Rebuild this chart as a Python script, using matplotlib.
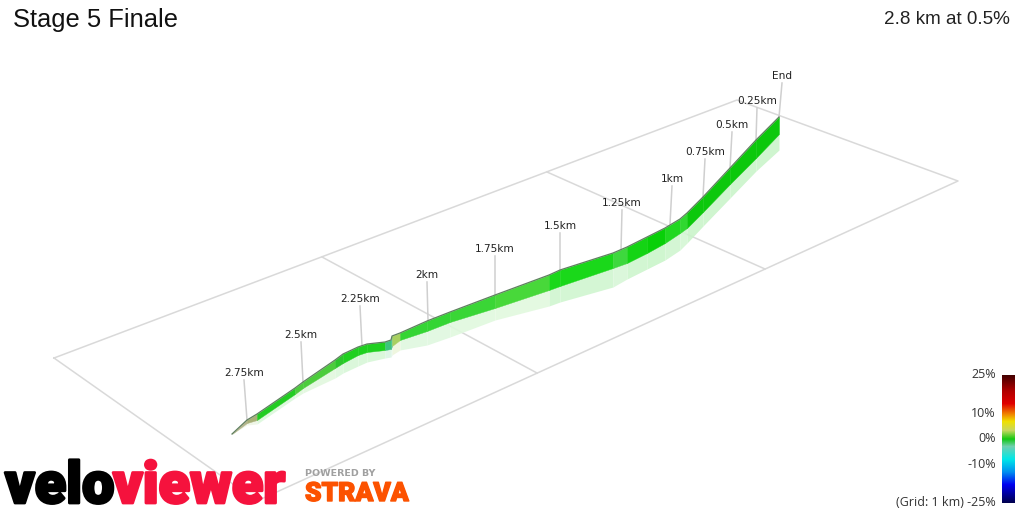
import matplotlib
matplotlib.use('Agg')
import matplotlib.pyplot as plt
import matplotlib.patheffects as pe
from matplotlib.colors import LinearSegmentedColormap
import numpy as np

grid_x = [54, 737, 958, 257, 54]
grid_y = [358, 100, 181, 501, 358]
cross1_x = [322, 537]
cross1_y = [257, 373]
cross2_x = [547, 765]
cross2_y = [172, 269]

profile_x = [232, 247, 257, 295, 303, 335, 343, 358, 367, 385, 391, 392, 400, 427,
             450, 495, 549, 560, 613, 627, 647, 665, 680, 687, 703, 730, 756, 779]
top_y = [434, 420, 414, 388, 382, 360, 354, 347, 344, 342, 340, 336, 333, 321,
         312, 295, 275, 270, 253, 247, 237, 228, 219, 213, 197, 168, 140, 117]
green_y = [434, 423, 420, 394, 388, 368, 363, 355, 352, 350, 349, 346, 340, 331,
           322, 308, 290, 286, 268, 263, 253, 243, 233, 228, 212, 184, 158, 134]
shadow_y = [434, 425, 424, 398, 393, 378, 373, 366, 362, 358, 357, 355, 350, 345,
            337, 320, 306, 302, 287, 279, 269, 260, 250, 243, 226, 198, 171, 150]
segment_colors = ['#b4b48a', '#a8b078', '#22cc22', '#4ccc3c', '#4ccc3c', '#2cc42c', '#1fd01f',
                  '#1fd01f', '#1fd01f', '#3cc47c', '#48c090', '#a8d060', '#34d534', '#34d534',
                  '#3ad636', '#48d83a', '#1ad81a', '#1ad81a', '#3ed83e', '#14d414', '#08d008',
                  '#20d820', '#30d830', '#0cc80c', '#0cc80c', '#0cc80c', '#0cc80c']
shadow_colors = ['#eef6e6', '#eef6e6', '#dcf8dc', '#e2f8de', '#e2f8de', '#dcf8dc', '#d8f7d8',
                 '#d8f7d8', '#d8f7d8', '#dcf4e4', '#dcf4e4', '#eef6dc', '#dff8df', '#dff8df',
                 '#e0f9de', '#e2f9de', '#d0f6d0', '#d0f6d0', '#d8f7d8', '#cef5ce', '#caf5ca',
                 '#d0f6d0', '#d4f7d4', '#caf4ca', '#caf4ca', '#caf4ca', '#caf4ca']

km_labels = ['2.75km', '2.5km', '2.25km', '2km', '1.75km', '1.5km', '1.25km', '1km',
             '0.75km', '0.5km', '0.25km', 'End']
label_x = [244, 301, 360, 427, 495, 560, 622, 672, 705, 732, 757, 782]
label_y = [373, 335, 299, 275, 249, 226, 203, 179, 152, 125, 101, 76]
foot_x = [247, 303, 362, 428, 495, 560, 621, 670, 703, 730, 756, 779]
foot_y = [420, 382, 346, 320, 295, 270, 250, 224, 197, 168, 140, 117]

scale_ticks = [25, 10, 0, -10]
scale_pct = [-25, -18, -13, -8, -3, 0, 3.5, 7, 10, 14, 19, 25]
scale_colors = ['#000050', '#0000f0', '#0090f0', '#00e8e8', '#70d0b0', '#10c810',
                '#c8d860', '#f0e000', '#f08000', '#e00000', '#b00000', '#450000']

fig = plt.figure(figsize=(10.24, 5.12), dpi=100)
ax = fig.add_axes([0, 0, 1, 1])

# grid on the ground plane
ax.plot(grid_x, grid_y, color='#d9d9d9', lw=1.1, zorder=1)
ax.plot(cross1_x, cross1_y, color='#d9d9d9', lw=1.1, zorder=1)
ax.plot(cross2_x, cross2_y, color='#d9d9d9', lw=1.1, zorder=1)

# pale underside, then the coloured wall one segment at a time
for i, c in enumerate(shadow_colors):
    ax.fill_between(profile_x[i:i + 2], green_y[i:i + 2], shadow_y[i:i + 2],
                    color=c, alpha=0.9, lw=0, zorder=2)
for i, c in enumerate(segment_colors):
    ax.fill_between(profile_x[i:i + 2], top_y[i:i + 2], green_y[i:i + 2],
                    color=c, lw=0.3, zorder=3)
ax.plot(profile_x, top_y, color='#5f7f5f', lw=0.9, zorder=4)

# distance markers
for name, lx, ly, fx, fy in zip(km_labels, label_x, label_y, foot_x, foot_y):
    ax.plot([lx, fx], [ly + 7, fy], color='#cfcfcf', lw=1.1, zorder=2.5)
    ax.text(lx, ly, name, fontsize=7.6, family='DejaVu Sans', color='#222222',
            ha='center', va='center', zorder=5)

ax.text(13, 20, 'Stage 5 Finale', fontsize=18.4, family='Liberation Sans', color='#111111',
        ha='left', va='center')
ax.text(1010, 19, '2.8 km at 0.5%', fontsize=13.6, family='Liberation Sans', color='#222222',
        ha='right', va='center')

# gradient scale
pct = np.linspace(25, -25, 128).reshape(-1, 1)
stops = [(p + 25) / 50 for p in scale_pct]
cmap = LinearSegmentedColormap.from_list('grade', list(zip(stops, scale_colors)))
ax.imshow(pct, cmap=cmap, vmin=-25, vmax=25, extent=[1002, 1015, 503, 375], aspect='auto', zorder=3)
for t in scale_ticks:
    ax.text(996, 439 - 2.56 * t, f'{t}%', fontsize=9, family='Open Sans', color='#333333',
            ha='right', va='center')
ax.text(996, 503, '(Grid: 1 km) -25%', fontsize=9, family='Open Sans', color='#333333',
        ha='right', va='center')

# logos
thick = [pe.withStroke(linewidth=2, foreground='#000000')]
ax.text(5, 503, 'velo', fontsize=41.5, family='Roboto', weight='black', color='#000000',
        ha='left', va='baseline', zorder=6, path_effects=thick)
thick = [pe.withStroke(linewidth=2, foreground='#f5123d')]
ax.text(285, 503, 'viewer', fontsize=41.5, family='Roboto', weight='black', color='#f5123d',
        ha='right', va='baseline', zorder=7, path_effects=thick)
ax.text(305, 473, 'POWERED BY', fontsize=6.8, family='DejaVu Sans', weight='bold', color='#a0a0a0',
        ha='left', va='center', zorder=6)
strava = [pe.withStroke(linewidth=1, foreground='#fc5200')]
ax.text(305, 494, 'STRAVA', fontsize=19, family='Roboto', weight='black', color='#fc5200',
        ha='left', va='center', zorder=6, path_effects=strava)

ax.set_xlim(0, 1024)
ax.set_ylim(512, 0)
ax.axis('off')
fig.savefig('out.png', dpi=100, facecolor='white')
